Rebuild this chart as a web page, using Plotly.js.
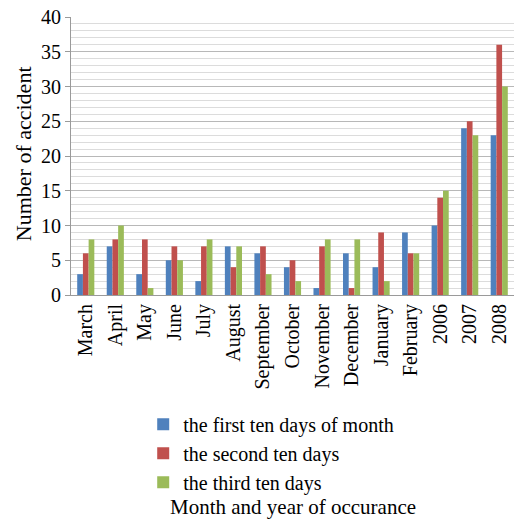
<!DOCTYPE html>
<html>
<head>
<meta charset="utf-8">
<script src="https://cdn.plot.ly/plotly-3.0.1.min.js"></script>
<style>
html,body{margin:0;padding:0;background:#fff;}
#chart{width:514px;height:520px;}
#chart svg text{font-family:'Liberation Serif','Times New Roman',serif !important;}
</style>
</head>
<body>
<div id="chart"></div>
<script>
var categories = ["March","April","May","June","July","August","September","October","November","December","January","February","2006","2007","2008"];
var firstTen  = [3, 7, 3, 5, 2, 7, 6, 4, 1, 6, 4, 9, 10, 24, 23];
var secondTen = [6, 8, 8, 7, 7, 4, 7, 5, 7, 1, 9, 6, 14, 25, 36];
var thirdTen  = [8, 10, 1, 5, 8, 7, 3, 2, 8, 8, 2, 6, 15, 23, 30];
var seriesNames = ["the first ten days of month", "the second ten days", "the third ten days"];
var colors = ["#4F81BD", "#C0504D", "#9BBB59"];

var fam = "Liberation Serif";
var font = {family: fam, size: 20, color: "#000"};
var vals = [firstTen, secondTen, thirdTen];
var data = vals.map(function(v, i){
  return {type: "bar", x: categories, y: v, name: seriesNames[i], marker: {color: colors[i]}};
});

var layout = {
  width: 514, height: 520,
  margin: {l: 71, r: 0, t: 17, b: 225},
  paper_bgcolor: "#fff", plot_bgcolor: "#fff",
  font: font,
  barmode: "group", bargap: 0.42, bargroupgap: 0,
  showlegend: true,
  legend: {x: 0.163, y: -0.395, xanchor: "left", yanchor: "top", font: font, bgcolor: "rgba(0,0,0,0)", tracegroupgap: 0},
  xaxis: {
    type: "category", range: [-0.5, 14.5], tickangle: -90, tickfont: font,
    showgrid: false, showline: true, linecolor: "#9a9a9a", ticks: "", fixedrange: true
  },
  yaxis: {
    range: [0, 40], dtick: 5, tickfont: font, showline: true, linecolor: "#9a9a9a",
    ticks: "outside", ticklen: 5, tickcolor: "#9a9a9a",
    showgrid: true, gridcolor: "#b8b8b8", gridwidth: 1, zeroline: false,
    minor: {dtick: 1, showgrid: true, gridcolor: "#dcdcdc", gridwidth: 1, ticks: ""},
    fixedrange: true
  },
  annotations: [
    {text: "Number of accident", xref: "paper", yref: "paper", x: -0.108, y: 0.507, xanchor: "center", yanchor: "middle", textangle: -90, showarrow: false, font: {family: fam, size: 22, color: "#000"}},
    {text: "Month and year of occurance", xref: "paper", yref: "paper", x: 0.5, y: -0.763, xanchor: "center", yanchor: "middle", showarrow: false, font: {family: fam, size: 21, color: "#000"}}
  ]
};
Plotly.newPlot("chart", data, layout, {displayModeBar: false, staticPlot: true});
</script>
</body>
</html>
